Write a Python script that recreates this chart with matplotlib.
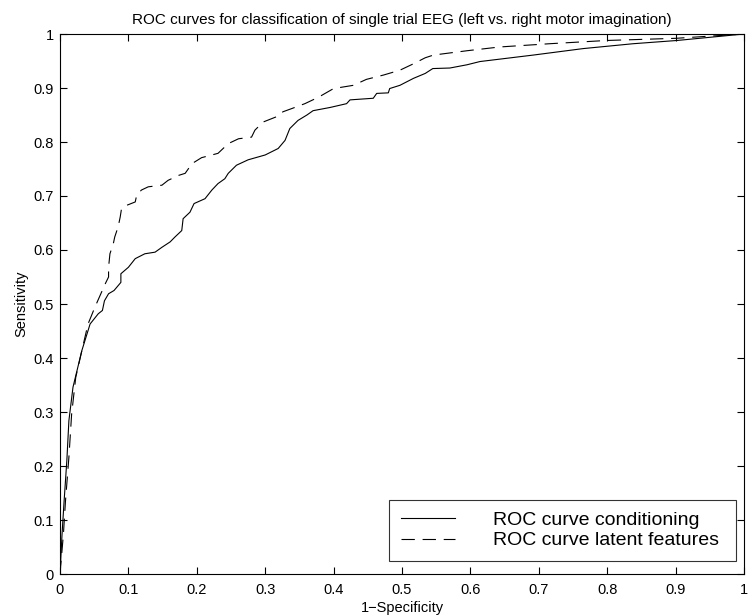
import matplotlib
matplotlib.use("Agg")
import matplotlib.pyplot as plt
import numpy as np

plt.rcParams['font.family'] = ['Liberation Sans', 'DejaVu Sans']

# ROC curve, conditioning (solid)
fpr_cond = [0.0, 0.003, 0.006, 0.010, 0.013, 0.019, 0.032, 0.044, 0.056, 0.062,
            0.065, 0.071, 0.079, 0.089, 0.089, 0.100, 0.110, 0.124, 0.139, 0.149,
            0.161, 0.168, 0.178, 0.180, 0.190, 0.196, 0.212, 0.222, 0.231, 0.241,
            0.246, 0.258, 0.275, 0.300, 0.319, 0.329, 0.336, 0.348, 0.361, 0.370,
            0.395, 0.419, 0.424, 0.458, 0.463, 0.480, 0.482, 0.497, 0.517, 0.534,
            0.545, 0.570, 0.595, 0.614, 0.692, 0.765, 0.838, 0.902, 1.0]
tpr_cond = [0.0, 0.074, 0.135, 0.210, 0.284, 0.346, 0.414, 0.463, 0.482, 0.488,
            0.506, 0.519, 0.525, 0.540, 0.556, 0.568, 0.584, 0.593, 0.596, 0.605,
            0.615, 0.624, 0.636, 0.658, 0.670, 0.686, 0.695, 0.711, 0.723, 0.732,
            0.742, 0.757, 0.767, 0.776, 0.788, 0.803, 0.825, 0.840, 0.850, 0.858,
            0.864, 0.871, 0.878, 0.881, 0.890, 0.891, 0.899, 0.905, 0.918, 0.927,
            0.936, 0.937, 0.943, 0.949, 0.961, 0.973, 0.982, 0.988, 1.0]

# ROC curve, latent features (dashed)
fpr_lat = [0.0, 0.005, 0.008, 0.013, 0.017, 0.023, 0.032, 0.041, 0.051, 0.066,
           0.071, 0.071, 0.073, 0.078, 0.080, 0.085, 0.088, 0.090, 0.098, 0.110,
           0.112, 0.119, 0.129, 0.149, 0.158, 0.173, 0.183, 0.193, 0.207, 0.231,
           0.246, 0.261, 0.280, 0.285, 0.297, 0.317, 0.326, 0.339, 0.358, 0.378,
           0.400, 0.429, 0.448, 0.473, 0.497, 0.517, 0.534, 0.546, 0.595, 0.643,
           0.716, 0.799, 0.900, 1.0]
tpr_lat = [0.0, 0.074, 0.135, 0.216, 0.296, 0.364, 0.414, 0.463, 0.494, 0.537,
           0.550, 0.568, 0.593, 0.612, 0.624, 0.643, 0.661, 0.677, 0.683, 0.689,
           0.701, 0.711, 0.717, 0.720, 0.729, 0.738, 0.742, 0.760, 0.771, 0.779,
           0.797, 0.806, 0.809, 0.822, 0.837, 0.847, 0.856, 0.862, 0.871, 0.883,
           0.899, 0.905, 0.916, 0.924, 0.933, 0.945, 0.956, 0.961, 0.969, 0.976,
           0.982, 0.988, 0.992, 1.0]

ticks = np.arange(0, 1.01, 0.1)
tick_labels = ['0', '0.1', '0.2', '0.3', '0.4', '0.5', '0.6', '0.7', '0.8', '0.9', '1']

fig = plt.figure(figsize=(7.48, 6.15), dpi=100)
ax = fig.add_axes([60 / 748, 41 / 615, 684 / 748, 540 / 615])

ax.plot(fpr_cond, tpr_cond, color='black', lw=0.8, label='ROC curve conditioning')
ax.plot(fpr_lat, tpr_lat, color='black', lw=0.8, linestyle=(0, (12, 7)),
        label='ROC curve latent features')

ax.set_xlim(0, 1)
ax.set_ylim(0, 1)
ax.set_xticks(ticks)
ax.set_yticks(ticks)
ax.set_xticklabels(tick_labels)
ax.set_yticklabels(tick_labels)
ax.tick_params(direction='in', length=5, width=0.8, labelsize=10.5,
               top=True, right=True)
ax.tick_params(axis='x', pad=6.5)
ax.tick_params(axis='y', pad=4.3)
for s in ax.spines.values():
    s.set_linewidth(0.8)

ax.set_xlabel('1\u2212Specificity', fontsize=10.5, labelpad=3)
ax.set_ylabel('Sensitivity', fontsize=10.5, labelpad=3.5)
ax.set_title('ROC curves for classification of single trial EEG (left vs. right motor imagination)',
             fontsize=11, pad=7)

leg = ax.legend(loc='lower left', bbox_to_anchor=(329 / 684, 13 / 540, 347 / 684, 0.1),
                mode='expand', fontsize=14, frameon=True, fancybox=False,
                borderaxespad=0, borderpad=0.6, labelspacing=0.14,
                handlelength=2.8, handletextpad=1.95)
leg.get_frame().set_edgecolor('black')
leg.get_frame().set_linewidth(0.8)

fig.savefig('out.png', dpi=100)
